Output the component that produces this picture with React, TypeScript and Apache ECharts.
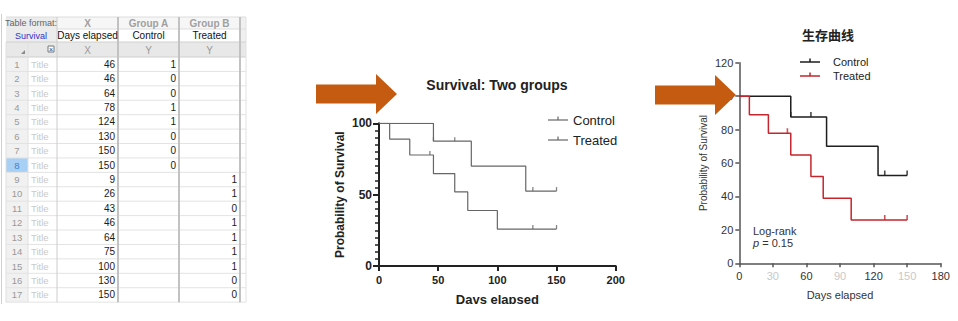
import React, { useEffect, useRef } from 'react';
import * as echarts from 'echarts';

// ---------- Data table (left) ----------
const rowDays = [46, 46, 64, 78, 124, 130, 150, 150, 9, 26, 43, 46, 64, 75, 100, 130, 150];
const controlStatus: (number | null)[] = [1, 0, 0, 1, 1, 0, 0, 0, null, null, null, null, null, null, null, null, null];
const treatedStatus: (number | null)[] = [null, null, null, null, null, null, null, null, 1, 1, 0, 1, 1, 1, 1, 0, 0];
const groupHeaders = ['X', 'Group A', 'Group B'];
const groupNames = ['Days elapsed', 'Control', 'Treated'];
const colTypes = ['X', 'Y', 'Y'];
const selectedRow = 8;

// ---------- Survival curves ----------
const seriesNames = ['Control', 'Treated'];
const controlSteps = [[0, 100], [46, 87.5], [78, 70], [124, 52.5], [150, 52.5]];
const controlCensored = [[46, 87.5], [64, 87.5], [130, 52.5], [150, 52.5]];
const treatedSteps = [[0, 100], [9, 88.9], [26, 77.8], [46, 64.8], [64, 51.9], [75, 38.9], [100, 25.9], [150, 25.9]];
const treatedCensored = [[43, 77.8], [130, 25.9], [150, 25.9]];
const fadedXLabels = [30, 90, 150];

const FONT = "'Liberation Sans', Arial, sans-serif";

function txt(x: number, y: number, text: string, o: any = {}) {
  return {
    type: 'text', x, y, silent: true, z: o.z ?? 10,
    style: {
      text, fill: o.fill ?? '#222', fontSize: o.size ?? 10, fontFamily: o.family ?? FONT,
      fontWeight: o.weight ?? 'normal', fontStyle: o.style ?? 'normal',
      textAlign: o.align ?? 'left', textVerticalAlign: 'middle',
      align: o.align ?? 'left', verticalAlign: 'middle', rich: o.rich,
    },
  };
}
function rect(x: number, y: number, w: number, h: number, fill: string, z = 1) {
  return { type: 'rect', silent: true, z, shape: { x, y, width: w, height: h }, style: { fill } };
}
function line(x1: number, y1: number, x2: number, y2: number, stroke: string, lw = 1, z = 2) {
  return { type: 'line', silent: true, z, shape: { x1, y1, x2, y2 }, style: { stroke, lineWidth: lw } };
}

function buildTable() {
  const els: any[] = [];
  const cols = [6, 28, 57, 118, 179, 240];
  const rowTop = 57;
  const rowH = 14.42;
  const bottom = rowTop + rowDays.length * rowH;
  // backgrounds
  els.push(rect(6, 17, 51, 25, '#ececec'));
  els.push(rect(57, 17, 183, 12, '#f6f6f6'));
  els.push(rect(6, 42, 240, 15, '#e8e8e8'));
  els.push(rect(240, 17, 6, 25, '#f0f0f0'));
  rowDays.forEach((_, i) => {
    els.push(rect(6, rowTop + i * rowH, 22, rowH, i + 1 === selectedRow ? '#a8d0f4' : '#f1f1f1'));
  });
  // horizontal lines
  els.push(line(6, 17, 246, 17, '#dcdcdc'));
  els.push(line(57, 29, 246, 29, '#dddddd'));
  els.push(line(6, 42, 246, 42, '#d0d0d0'));
  els.push(line(6, 57, 246, 57, '#cfcfcf'));
  for (let i = 1; i <= rowDays.length; i++) {
    const y = rowTop + i * rowH;
    els.push(line(6, y, 246, y, '#e3e3e3'));
  }
  // vertical lines
  els.push(line(1.5, 14, 1.5, bottom + 2, '#d0d0d0'));
  els.push(line(6, 42, 6, bottom, '#e0e0e0'));
  els.push(line(28, 42, 28, bottom, '#e0e0e0'));
  els.push(line(57, 17, 57, bottom, '#cccccc'));
  els.push(line(118, 17, 118, bottom, '#c2c2c2', 2));
  els.push(line(179, 17, 179, bottom, '#c2c2c2', 2));
  els.push(line(240, 17, 240, bottom, '#c2c2c2', 2));
  els.push(line(246, 17, 246, bottom, '#e2e2e2'));
  // header texts
  els.push(txt(31, 23, 'Table format:', { size: 9, fill: '#666', align: 'center' }));
  els.push(txt(31, 35.5, 'Survival', { size: 9, fill: '#3030c8', align: 'center' }));
  groupHeaders.forEach((h, j) => {
    const cx = (cols[j + 2] + cols[j + 3]) / 2;
    els.push(txt(cx, 23, h, { size: 10, fill: '#a0a0a0', weight: 'bold', align: 'center' }));
    els.push(txt(cx, 35.5, groupNames[j], { size: 10, fill: '#111', align: 'center' }));
    els.push(txt(cx, 50, colTypes[j], { size: 10, fill: '#999', align: 'center' }));
  });
  // header icons
  els.push({ type: 'polygon', silent: true, z: 5, shape: { points: [[21, 54], [25, 54], [25, 50]] }, style: { fill: '#888' } });
  els.push({ type: 'rect', silent: true, z: 5, shape: { x: 48, y: 46, width: 6, height: 6 }, style: { fill: '#fff', stroke: '#777', lineWidth: 1 } });
  els.push(txt(51, 49, '×', { size: 7, fill: '#333', align: 'center', z: 6 }));
  // data rows
  rowDays.forEach((d, i) => {
    const cy = rowTop + i * rowH + rowH / 2;
    const sel = i + 1 === selectedRow;
    els.push(txt(17, cy, String(i + 1), { size: 9.5, fill: sel ? '#3f7fc8' : '#999', align: 'center' }));
    els.push(txt(31, cy, 'Title', { size: 9.5, fill: '#c9c9c9' }));
    els.push(txt(115, cy, String(d), { size: 10, fill: '#1a1a1a', align: 'right' }));
    const a = controlStatus[i];
    if (a !== null) els.push(txt(176, cy, String(a), { size: 10, fill: '#1a1a1a', align: 'right' }));
    const b = treatedStatus[i];
    if (b !== null) els.push(txt(237, cy, String(b), { size: 10, fill: '#1a1a1a', align: 'right' }));
  });
  return els;
}

function arrow(x0: number, tip: number, headStart: number, cy: number) {
  return {
    type: 'polygon', silent: true, z: 100,
    shape: {
      points: [[x0, cy - 9.5], [headStart, cy - 9.5], [headStart, cy - 20], [tip, cy], [headStart, cy + 20], [headStart, cy + 9.5], [x0, cy + 9.5]],
    },
    style: { fill: '#c55a11' },
  };
}

function legend(x: number, y: number, gap: number, colors: string[], size: number, lw: number, textX: number) {
  const els: any[] = [];
  seriesNames.forEach((n, i) => {
    const yy = y + i * gap;
    els.push(line(x, yy, x + 20, yy, colors[i], lw, 20));
    els.push(line(x + 10, yy, x + 10, yy - 3.5, colors[i], lw, 20));
    els.push(txt(textX, yy, n, { size, fill: '#222', z: 20 }));
  });
  return els;
}

export default function App() {
  const ref = useRef<HTMLDivElement>(null);
  useEffect(() => {
    document.body.style.margin = '0';
    const chart = echarts.init(ref.current!, null, { renderer: 'svg' });
    const midColor = '#666';
    const rightColors = ['#1e1e1e', '#c4262e'];
    const option: any = {
      animation: false,
      textStyle: { fontFamily: FONT },
      grid: [
        { left: 379, right: 342.3, top: 123.3, bottom: 55 },
        { left: 739.3, right: 17.3, top: 62.7, bottom: 57.7 },
      ],
      xAxis: [
        {
          gridIndex: 0, type: 'value', min: 0, max: 200, interval: 50,
          name: 'Days elapsed', nameLocation: 'middle', nameGap: 27,
          nameTextStyle: { fontSize: 13, fontWeight: 'bold', color: '#222' },
          axisLine: { lineStyle: { color: '#222', width: 2 } },
          axisTick: { length: 5, lineStyle: { color: '#222', width: 2 } },
          axisLabel: { fontSize: 11, fontWeight: 'bold', color: '#222', margin: 8 },
          splitLine: { show: false },
        },
        {
          gridIndex: 1, type: 'value', min: 0, max: 180, interval: 30,
          name: 'Days elapsed', nameLocation: 'middle', nameGap: 26,
          nameTextStyle: { fontSize: 11, color: '#333' },
          axisLine: { lineStyle: { color: '#555', width: 1.5 } },
          axisTick: { length: 4, lineStyle: { color: '#555', width: 1.5 } },
          axisLabel: {
            fontSize: 11, color: '#333', margin: 7,
            formatter: (v: number) => (fadedXLabels.includes(v) ? `{f|${v}}` : `${v}`),
            rich: { f: { color: '#c8c8c8', fontSize: 11 } },
          },
          splitLine: { show: false },
        },
      ],
      yAxis: [
        {
          gridIndex: 0, type: 'value', min: 0, max: 100, interval: 50,
          name: 'Probability of Survival', nameLocation: 'middle', nameGap: 33,
          nameTextStyle: { fontSize: 12, fontWeight: 'bold', color: '#222' },
          axisLine: { show: true, lineStyle: { color: '#222', width: 2 } },
          axisTick: { show: true, length: 6, lineStyle: { color: '#222', width: 2 } },
          minorTick: { show: true, splitNumber: 10, length: 4, lineStyle: { color: '#222', width: 1.5 } },
          axisLabel: { fontSize: 12, fontWeight: 'bold', color: '#222', margin: 7 },
          splitLine: { show: false },
        },
        {
          gridIndex: 1, type: 'value', min: 0, max: 120, interval: 20,
          name: 'Probability of Survival', nameLocation: 'middle', nameGap: 31,
          nameTextStyle: { fontSize: 10, color: '#333' },
          axisLine: { show: true, lineStyle: { color: '#555', width: 1.5 } },
          axisTick: { show: true, length: 4, lineStyle: { color: '#555', width: 1.5 } },
          axisLabel: { fontSize: 11, color: '#333', margin: 6 },
          splitLine: { show: false },
        },
      ],
      series: [
        { name: seriesNames[0], type: 'line', step: 'end', xAxisIndex: 0, yAxisIndex: 0, data: controlSteps, symbol: 'none', lineStyle: { color: midColor, width: 1.2 } },
        { name: seriesNames[1], type: 'line', step: 'end', xAxisIndex: 0, yAxisIndex: 0, data: treatedSteps, symbol: 'none', lineStyle: { color: midColor, width: 1.2 } },
        { name: seriesNames[0], type: 'scatter', xAxisIndex: 0, yAxisIndex: 0, data: controlCensored, symbol: 'rect', symbolSize: [1.3, 4], symbolOffset: [0, -2], itemStyle: { color: midColor } },
        { name: seriesNames[1], type: 'scatter', xAxisIndex: 0, yAxisIndex: 0, data: treatedCensored, symbol: 'rect', symbolSize: [1.3, 4], symbolOffset: [0, -2], itemStyle: { color: midColor } },
        { name: seriesNames[0], type: 'line', step: 'end', xAxisIndex: 1, yAxisIndex: 1, data: controlSteps, symbol: 'none', lineStyle: { color: rightColors[0], width: 1.5 } },
        { name: seriesNames[1], type: 'line', step: 'end', xAxisIndex: 1, yAxisIndex: 1, data: treatedSteps, symbol: 'none', lineStyle: { color: rightColors[1], width: 1.5 } },
        { name: seriesNames[0], type: 'scatter', xAxisIndex: 1, yAxisIndex: 1, data: controlCensored, symbol: 'rect', symbolSize: [1.6, 5], symbolOffset: [0, -2.5], itemStyle: { color: rightColors[0] } },
        { name: seriesNames[1], type: 'scatter', xAxisIndex: 1, yAxisIndex: 1, data: treatedCensored, symbol: 'rect', symbolSize: [1.6, 5], symbolOffset: [0, -2.5], itemStyle: { color: rightColors[1] } },
      ],
      graphic: [
        ...buildTable(),
        arrow(316, 397, 376, 94),
        arrow(655, 736, 715, 95),
        txt(497, 85, 'Survival: Two groups', { size: 14, weight: 'bold', fill: '#222', align: 'center' }),
        txt(828, 34, '生存曲线', { size: 13, weight: 'bold', fill: '#222', align: 'center', family: "'Noto Sans CJK SC', sans-serif" }),
        ...legend(548, 120, 20, [midColor, midColor], 13, 1.2, 573),
        ...legend(800, 62, 14, rightColors, 11, 1.5, 833),
        txt(753, 231, 'Log-rank', { size: 11, fill: '#333' }),
        txt(753, 243, '{i|p} = 0.15', { size: 11, fill: '#333', rich: { i: { fontStyle: 'italic', fontSize: 11, fill: '#333', fontFamily: FONT } } }),
        rect(330, 304, 320, 17, '#ffffff', 200),
      ],
    };
    chart.setOption(option);
    return () => chart.dispose();
  }, []);
  return <div ref={ref} style={{ width: 958, height: 321 }} />;
}
